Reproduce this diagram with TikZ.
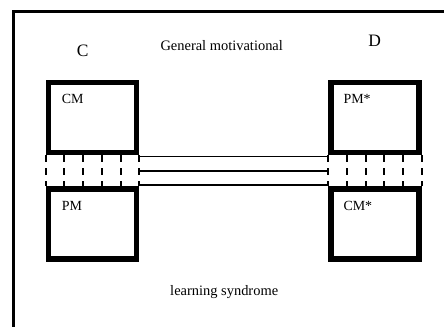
\documentclass[tikz,border=0pt]{standalone}
\usepackage{fontspec}
\setmainfont{Liberation Serif}
\usetikzlibrary{calc}

\tikzset{
    mbox/.style={draw, line width=5.5bp, minimum width=88bp, minimum height=70bp, inner sep=0pt},
    lbl/.style={anchor=base west, inner sep=0pt, font=\fontsize{14}{16}\selectfont},
    ttl/.style={anchor=base, inner sep=0pt, font=\fontsize{14.5}{17}\selectfont},
    side/.style={anchor=base, inner sep=0pt, font=\fontsize{17.5}{20}\selectfont},
    link/.style={line width=1.5bp},
    gap/.style={line width=2bp, dash pattern=on 7bp off 6bp},
}

\begin{document}
\begin{tikzpicture}[x=1bp, y=-1bp]
    \useasboundingbox (0,0) rectangle (444,326);
    \clip (0,0) rectangle (444,326);
    \draw[line width=3.3bp] (13.5,11.7) rectangle (470,350);

    \node[side] (c) at (82.8,56) {C};
    \node[side] (d) at (374.7,46.5) {D};
    \node[ttl] (top) at (221.7,50) {General motivational};
    \node[ttl] (bottom) at (224.2,295) {learning syndrome};

    \node[mbox] (cm) at (92.5,117.5) {};
    \node[mbox] (pm) at (92.5,224) {};
    \node[mbox] (pms) at (375,117.5) {};
    \node[mbox] (cms) at (375,224) {};

    \node[lbl] (cmtext) at (61.7,103) {CM};
    \node[lbl] (pmtext) at (61.7,210) {PM};
    \node[lbl] (pmstext) at (343.3,103) {PM*};
    \node[lbl] (cmstext) at (343.3,210) {CM*};

    \foreach \i [evaluate=\i as \f using \i/5] in {0,...,5} {
        \draw[gap] ($(cm.south west)!\f!(cm.south east)$) -- ($(pm.north west)!\f!(pm.north east)$);
        \draw[gap] ($(pms.south west)!\f!(pms.south east)$) -- ($(cms.north west)!\f!(cms.north east)$);
    }

    \draw[link] ([yshift=-1bp]cm.south east) -- ([yshift=-1bp]pms.south west);
    \draw[link] ($(cm.south east)!0.5!(pm.north east)$) -- ($(pms.south west)!0.5!(cms.north west)$);
    \draw[link] ([yshift=1.5bp]pm.north east) -- ([yshift=1.5bp]cms.north west);
\end{tikzpicture}
\end{document}
